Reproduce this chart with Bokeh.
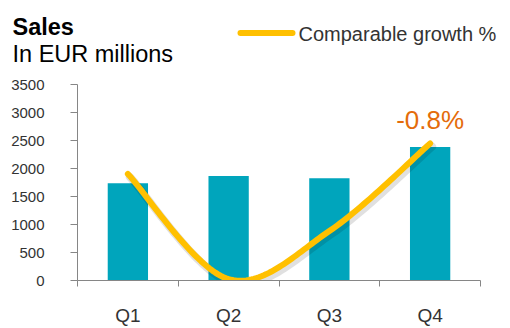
from bokeh.plotting import figure
from bokeh.models import Range1d, FixedTicker, Label
from bokeh.layouts import column
from bokeh.core.properties import value
from bokeh.embed import file_html
from bokeh.resources import INLINE
import numpy as np

# ---- data ----
quarters = ["Q1", "Q2", "Q3", "Q4"]
sales = [1735, 1865, 1825, 2385]
growth = [-2.4, -7.93, -5.4, -0.8]
y_ticks = [0, 500, 1000, 1500, 2000, 2500, 3000, 3500]
growth_range = (-8.0, 2.3)
title = "Sales"
subtitle = "In EUR millions"
legend_label = "Comparable growth %"

FONT = "Liberation Sans"
BAR = "#00A5BC"
LINE = "#FFC000"
AXIS = "#868686"
TXT = "#333333"

W = 510
HEAD_H = 70
MAIN_H = 258

# ---------- header (titles + legend), pixel-like coordinates ----------
h = figure(width=W, height=HEAD_H, output_backend="svg", toolbar_location=None,
           x_range=Range1d(0, W), y_range=Range1d(HEAD_H, 0),
           x_axis_location=None, y_axis_location=None, frame_align=False,
           min_border=0, min_border_left=0, min_border_right=0,
           min_border_top=0, min_border_bottom=0)
h.title.visible = False
h.outline_line_color = None
h.grid.visible = False
h.text(x=[12], y=[26], text=[title], text_baseline="alphabetic",
       text_font=value(FONT), text_font_size="23.5px", text_font_style="bold", text_color="black")
h.text(x=[12], y=[53], text=[subtitle], text_baseline="alphabetic",
       text_font=value(FONT), text_font_size="23.5px", text_color="black")
h.line(x=[240, 292], y=[32.5, 32.5], line_color=LINE, line_width=6, line_cap="round")
h.text(x=[298], y=[33], text=[legend_label], text_baseline="middle",
       text_font=value(FONT), text_font_size="20px", text_color=TXT)

# ---------- main chart ----------
n = len(quarters)
xc = [i + 0.5 for i in range(n)]

p = figure(width=W, height=MAIN_H, output_backend="svg", toolbar_location=None,
           x_range=Range1d(0, n), y_range=Range1d(y_ticks[0], y_ticks[-1]),
           frame_align=False,
           min_border_left=77, min_border_right=30, min_border_top=84 - HEAD_H,
           min_border_bottom=47)
p.extra_y_ranges = {"growth": Range1d(*growth_range)}
p.outline_line_color = None
p.grid.visible = False

ya = p.yaxis[0]
ya.ticker = FixedTicker(ticks=y_ticks)
ya.axis_line_color = AXIS
ya.major_tick_line_color = AXIS
ya.major_tick_out = 7
ya.major_tick_in = 0
ya.minor_tick_line_color = None
ya.major_label_standoff = 26
ya.major_label_text_font = FONT
ya.major_label_text_font_size = "15px"
ya.major_label_text_color = TXT

xa = p.xaxis[0]
xa.ticker = FixedTicker(ticks=xc, minor_ticks=list(range(n + 1)))
xa.major_label_overrides = dict(zip(xc, quarters))
xa.axis_line_color = AXIS
xa.major_tick_line_color = None
xa.major_tick_out = 0
xa.major_tick_in = 0
xa.minor_tick_line_color = AXIS
xa.minor_tick_out = 6
xa.minor_tick_in = 0
xa.major_label_standoff = 18
xa.major_label_text_font = FONT
xa.major_label_text_font_size = "19px"
xa.major_label_text_color = TXT

p.vbar(x=xc, top=sales, width=0.4, fill_color=BAR, line_color=None)

def smooth(xs, ys, steps=40):
    pts = list(zip(xs, ys))
    ox, oy = [], []
    for i in range(len(pts) - 1):
        p0 = pts[i - 1] if i > 0 else pts[i]
        p1, p2 = pts[i], pts[i + 1]
        p3 = pts[i + 2] if i + 2 < len(pts) else pts[i + 1]
        c1 = (p1[0] + (p2[0] - p0[0]) / 6, p1[1] + (p2[1] - p0[1]) / 6)
        c2 = (p2[0] - (p3[0] - p1[0]) / 6, p2[1] - (p3[1] - p1[1]) / 6)
        ts = np.linspace(0, 1, steps, endpoint=(i == len(pts) - 2))
        for t in ts:
            a, b, c, d = (1 - t) ** 3, 3 * (1 - t) ** 2 * t, 3 * (1 - t) * t ** 2, t ** 3
            ox.append(a * p1[0] + b * c1[0] + c * c2[0] + d * p2[0])
            oy.append(a * p1[1] + b * c1[1] + c * c2[1] + d * p2[1])
    return ox, oy

sx, sy = smooth(xc, growth)
p.line([v + 0.02 for v in sx], [v - 0.16 for v in sy], y_range_name="growth",
       line_color="black", line_alpha=0.12, line_width=8, line_cap="round", line_join="round")
p.line(sx, sy, y_range_name="growth", line_color=LINE, line_width=6,
       line_cap="round", line_join="round")

p.add_layout(Label(x=xc[-1], y=growth[-1], y_range_name="growth", text=f"{growth[-1]:.1f}%",
                   text_align="center", text_baseline="alphabetic", y_offset=23,
                   text_font=FONT, text_font_size="26px", text_color="#E46C0A"))

layout = column(h, p, spacing=0)
open("out.html", "w").write(file_html(layout, INLINE))
